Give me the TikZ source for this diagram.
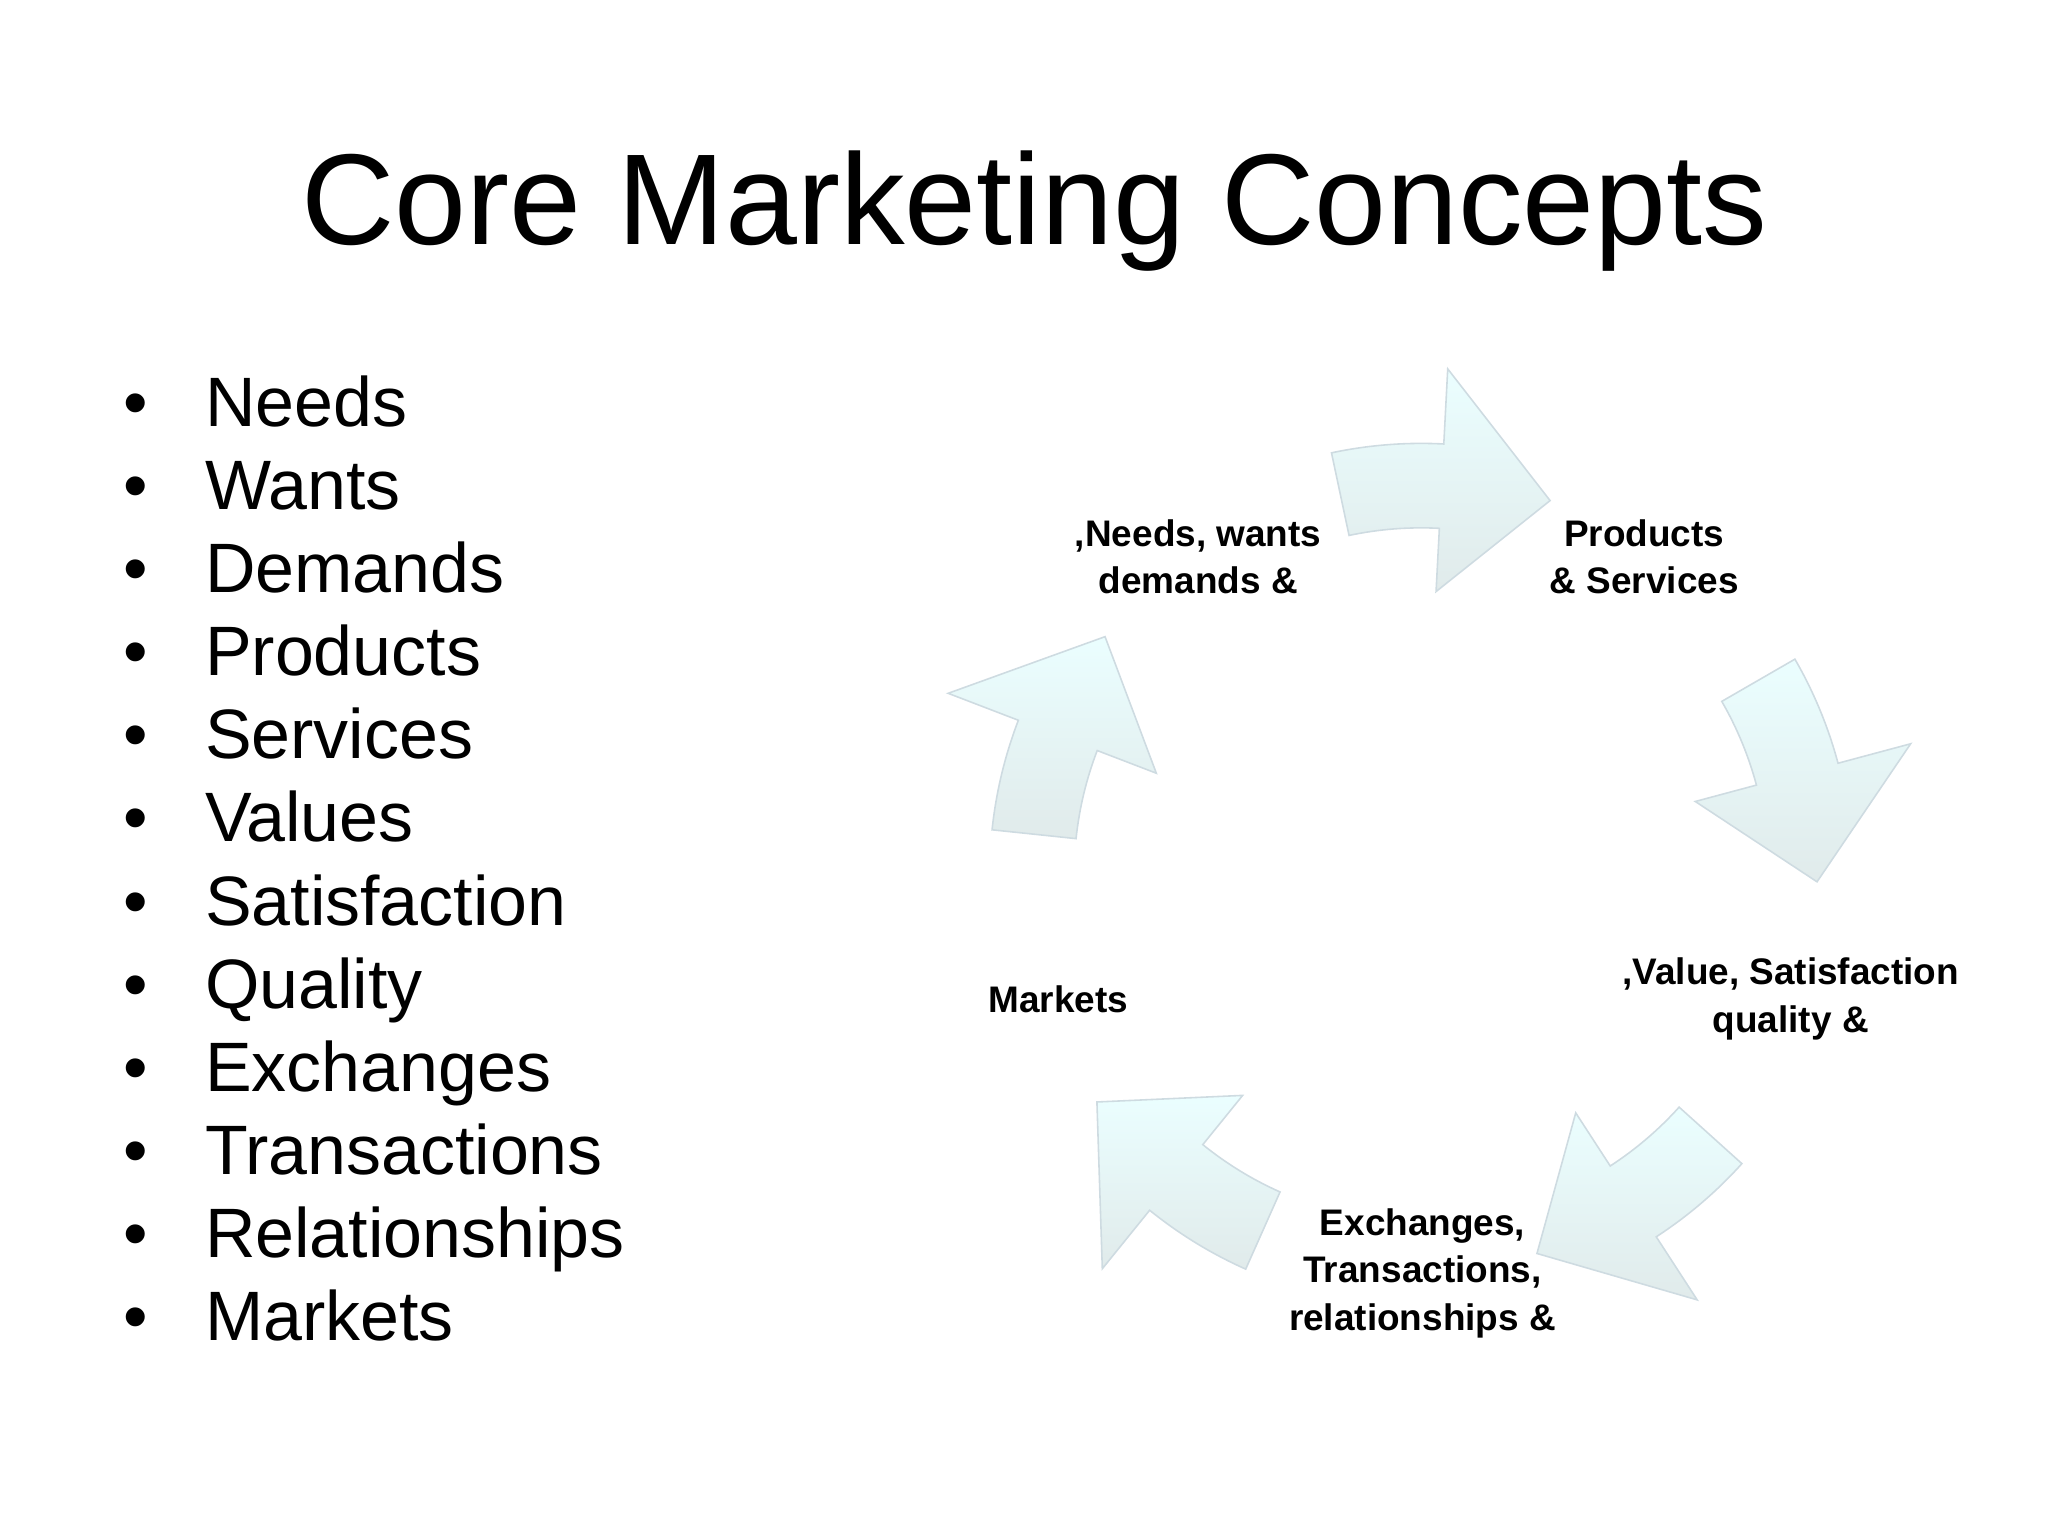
\documentclass[tikz,border=0pt]{standalone}
\usepackage{fontspec}
\setmainfont{Liberation Sans}
\begin{document}
\begin{tikzpicture}[x=0.5pt,y=0.5pt,
  lbl/.style={font=\fontsize{14}{18}\selectfont\bfseries,align=center,inner sep=0},
  bul/.style={font=\fontsize{26.5}{31.5}\selectfont,anchor=base west,inner sep=0},
  blk/.style={draw=cyan!25!gray!35,line width=0.6pt,left color=blue!3!cyan!8,right color=cyan!20!gray!20,shading angle=0}]
\useasboundingbox (0,0) rectangle (1552,-1164);
\node[font=\fontsize{49}{55}\selectfont,anchor=base] (title) at (784,-185) {Core Marketing Concepts};
\foreach \t [count=\i from 0] in {Needs,Wants,Demands,Products,Services,Values,Satisfaction,Quality,Exchanges,Transactions,Relationships,Markets}{
  \node[bul] (b\i) at (155,{-323-63*\i}) {\t};
  \node[bul,anchor=base] (d\i) at (103,{-323-63*\i}) {•};
}
\node[lbl] (needs) at (908,-422) {,Needs, wants\\demands \&};
\node[lbl] (prod) at (1246,-422) {Products\\\& Services};
\node[lbl] (val) at (1357,-757) {,Value, Satisfaction\\quality \&};
\node[lbl] (exch) at (1078,-965) {Exchanges,\\Transactions,\\relationships \&};
\node[lbl] (mkt) at (802,-757) {Markets};
\begin{scope}[shift={(1077,-663)}]
\foreach \c in {87,15,-57,-129,-201}{
  \pgfmathsetmacro\tt{\c+15}\pgfmathsetmacro\th{\c}\pgfmathsetmacro\tp{\c-16}
  \path[blk] (\tt:327) arc[start angle=\tt,end angle=\th,radius=327] -- (\th:384) -- (\tp:300) -- (\th:215) -- (\th:263) arc[start angle=\th,end angle=\tt,radius=263] -- cycle;
}
\end{scope}
\end{tikzpicture}
\end{document}
